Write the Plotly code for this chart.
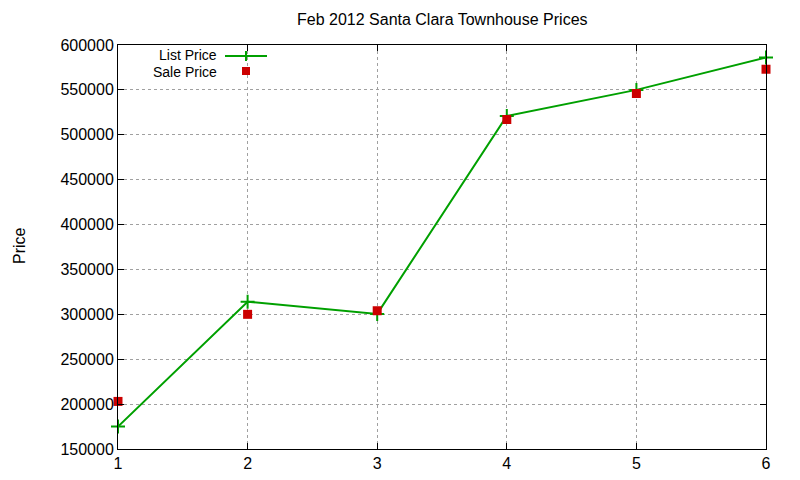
import plotly.graph_objects as go

# Dados (Santa Clara, fev 2012)
amostras = [1, 2, 3, 4, 5, 6]
preco_lista = [175000, 314000, 300500, 521000, 550000, 586000]
preco_venda = [203000, 300000, 304000, 517000, 546000, 573000]

ticks_y = [150000, 200000, 250000, 300000, 350000, 400000, 450000, 500000, 550000, 600000]

VERDE = '#00a000'
VERMELHO = '#cc0000'
FONTE = 'Liberation Sans, Arial, sans-serif'

# A página tem margem de 8px no body; compensa no tamanho da figura
DESL = 8
LARG, ALT = 800 - DESL, 480 - DESL
# Área do gráfico em pixels da janela
L, R, T, B = 118, 34, 45, 31
W, H = 800 - L - R, 480 - T - B

def px(x):
    return (x - L) / W

def py(y):
    return (480 - B - y) / H

fig = go.Figure()

fig.add_trace(go.Scatter(
    x=amostras, y=preco_lista,
    mode='lines+markers',
    name='List Price',
    line=dict(color=VERDE, width=2),
    marker=dict(symbol='cross-thin-open', size=10, line=dict(color=VERDE, width=2)),
    cliponaxis=False
))

fig.add_trace(go.Scatter(
    x=amostras, y=preco_venda,
    mode='markers',
    name='Sale Price',
    marker=dict(symbol='square', size=9, color=VERMELHO),
    cliponaxis=False
))

# legenda estilo gnuplot (texto à esquerda, amostra à direita)
fig.add_annotation(x=px(218), y=py(55), xref='paper', yref='paper', text='List Price',
                   showarrow=False, xanchor='right', yanchor='middle', borderpad=0,
                   font=dict(size=14))
fig.add_annotation(x=px(218), y=py(72), xref='paper', yref='paper', text='Sale Price',
                   showarrow=False, xanchor='right', yanchor='middle', borderpad=0,
                   font=dict(size=14))
fig.add_shape(type='line', xref='paper', yref='paper', x0=px(225), x1=px(267), y0=py(56), y1=py(56),
              line=dict(color=VERDE, width=2))
fig.add_shape(type='line', xref='paper', yref='paper', x0=px(246), x1=px(246), y0=py(51), y1=py(61),
              line=dict(color=VERDE, width=2))
fig.add_shape(type='rect', xref='paper', yref='paper', x0=px(242), x1=px(250), y0=py(67), y1=py(75),
              line=dict(width=0), fillcolor=VERMELHO)

# rótulo do eixo y
fig.add_annotation(x=px(19), y=py(245), xref='paper', yref='paper', text='Price',
                   showarrow=False, textangle=-90, xanchor='center', yanchor='middle',
                   borderpad=0, font=dict(size=16))

# título
fig.add_annotation(x=px(442), y=py(20), xref='paper', yref='paper',
                   text='Feb 2012 Santa Clara Townhouse Prices',
                   showarrow=False, xanchor='center', yanchor='middle', font=dict(size=16))

eixo = dict(
    showline=True, linecolor='black', linewidth=1, mirror='allticks',
    ticks='inside', ticklen=6, tickcolor='black', automargin=False,
    showgrid=True, gridcolor='#a0a0a0', griddash='dot', gridwidth=1,
    zeroline=False, tickfont=dict(size=16, color='black')
)

fig.update_layout(
    width=LARG, height=ALT,
    margin=dict(l=L - DESL, r=R, t=T - DESL, b=B),
    paper_bgcolor='white', plot_bgcolor='white',
    font=dict(family=FONTE, size=16, color='black'),
    showlegend=False,
    xaxis=dict(eixo, range=[1, 6], tickmode='array', tickvals=amostras),
    yaxis=dict(eixo, range=[150000, 600000], tickmode='array', tickvals=ticks_y,
               ticktext=[str(v) for v in ticks_y]),
)

fig.write_html('out.html')
